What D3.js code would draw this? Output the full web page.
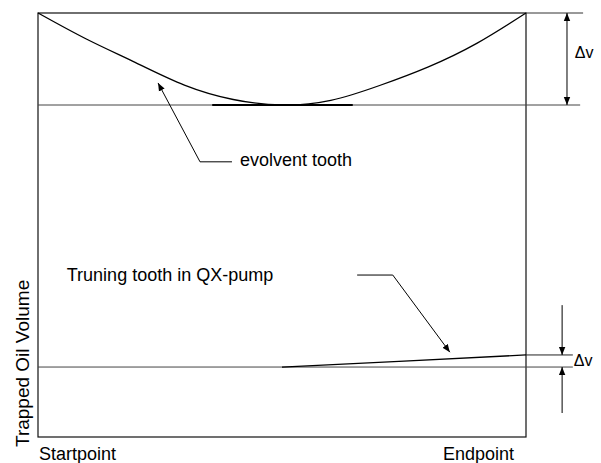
<!DOCTYPE html>
<html>
<head>
<meta charset="utf-8">
<script src="https://cdn.jsdelivr.net/npm/d3@7"></script>
<style>
  body { margin: 0; background: #fff; }
  text { font-family: "Liberation Sans", Arial, sans-serif; fill: #000; }
</style>
</head>
<body>
<div id="chart"></div>
<script>
"use strict";

// == DATA ==
// x: travel from start (0) to end (100), y: trapped oil volume (0..100)
var evolventX = [0, 10, 20, 30, 40, 50, 60, 70, 80, 90, 100];
var evolventY = [100, 93.8, 88.3, 83.0, 79.6, 78.3, 79.4, 82.9, 87.3, 92.9, 100];
var evolventMin = 78.3;
var flatSpan = [35.7, 64.5];

var qxX = [50, 75, 100];
var qxY = [16.5, 17.9, 19.35];
var qxBase = 16.5;

var xLabels = ["Startpoint", "Endpoint"];
var yLabel = "Trapped Oil Volume";
var notes = ["evolvent tooth", "Truning tooth in QX-pump"];

// == BOILERPLATE ==
var W = 601, H = 463;
var margin = { top: 13, right: 75, bottom: 26, left: 38 };

var svg = d3.select("#chart")
  .append("svg")
  .attr("width", W)
  .attr("height", H);

var x = d3.scaleLinear().domain([0, 100]).range([margin.left, W - margin.right]);
var y = d3.scaleLinear().domain([0, 100]).range([H - margin.bottom, margin.top]);

// arrow head
svg.append("defs").append("marker")
  .attr("id", "head")
  .attr("viewBox", "0 0 10 10")
  .attr("refX", 10).attr("refY", 5)
  .attr("markerWidth", 8).attr("markerHeight", 8)
  .attr("markerUnits", "userSpaceOnUse")
  .attr("orient", "auto")
  .append("path")
  .attr("d", "M0,1 L10,5 L0,9 Z")
  .attr("fill", "#000");

function hline(v, x0, x1, col) {
  svg.append("line")
    .attr("x1", x(x0)).attr("x2", x(x1))
    .attr("y1", y(v)).attr("y2", y(v))
    .attr("stroke", col || "#000").attr("stroke-width", 1);
}

// == FRAME ==
svg.append("rect")
  .attr("x", x(0)).attr("y", y(100))
  .attr("width", x(100) - x(0))
  .attr("height", y(0) - y(100))
  .attr("fill", "none")
  .attr("stroke", "#111")
  .attr("stroke-width", 1.2);

// reference levels
hline(100, 100, 111.7, "#333");
hline(evolventMin, 0, 111.1, "#444");
hline(qxBase, 0, 109.6, "#444");
hline(qxY[qxY.length - 1], 100, 109.6, "#222");

// == CURVES ==
var line = d3.line()
  .x(function (d) { return x(d[0]); })
  .y(function (d) { return y(d[1]); })
  .curve(d3.curveNatural);

svg.append("path")
  .datum(d3.zip(evolventX, evolventY))
  .attr("d", line)
  .attr("fill", "none")
  .attr("stroke", "#000")
  .attr("stroke-width", 1.3);

svg.append("line")
  .attr("x1", x(flatSpan[0])).attr("x2", x(flatSpan[1]))
  .attr("y1", y(evolventMin)).attr("y2", y(evolventMin))
  .attr("stroke", "#000").attr("stroke-width", 2);

svg.append("path")
  .datum(d3.zip(qxX, qxY))
  .attr("d", d3.line().x(function (d) { return x(d[0]); }).y(function (d) { return y(d[1]); }))
  .attr("fill", "none")
  .attr("stroke", "#000")
  .attr("stroke-width", 1.3);

// == DIMENSION ARROWS ==
function arrow(pts) {
  svg.append("path")
    .attr("d", d3.line().x(function (d) { return x(d[0]); }).y(function (d) { return y(d[1]); })(pts))
    .attr("fill", "none")
    .attr("stroke", "#000")
    .attr("stroke-width", 1)
    .attr("marker-end", "url(#head)");
}

var mid = (100 + evolventMin) / 2;
arrow([[108.4, mid], [108.4, 100]]);
arrow([[108.4, mid], [108.4, evolventMin]]);
arrow([[107.4, 31.1], [107.4, qxY[qxY.length - 1]]]);
arrow([[107.4, 5.66], [107.4, qxBase]]);

svg.append("text")
  .attr("x", x(110)).attr("y", 58)
  .attr("font-size", 16)
  .text("\u0394v");

svg.append("text")
  .attr("x", x(109.6) + 1).attr("y", 366)
  .attr("font-size", 16)
  .text("\u0394v");

// == CALLOUTS ==
arrow([[39.75, 64.9], [33.2, 64.9], [24.6, 83.5]]);
arrow([[65.4, 38.2], [72.7, 38.2], [84.4, 20.0]]);

svg.append("text")
  .attr("x", x(41.4)).attr("y", 166)
  .attr("font-size", 18)
  .text(notes[0]);

svg.append("text")
  .attr("x", x(5.9)).attr("y", 281)
  .attr("font-size", 18)
  .text(notes[1]);

// == AXIS LABELS ==
svg.append("text")
  .attr("x", x(0) + 1).attr("y", 460)
  .attr("font-size", 18)
  .text(xLabels[0]);

svg.append("text")
  .attr("x", x(100) - 83).attr("y", 460)
  .attr("font-size", 18)
  .text(xLabels[1]);

svg.append("text")
  .attr("transform", "translate(29,447) rotate(-90)")
  .attr("font-size", 19)
  .text(yLabel);
</script>
</body>
</html>
